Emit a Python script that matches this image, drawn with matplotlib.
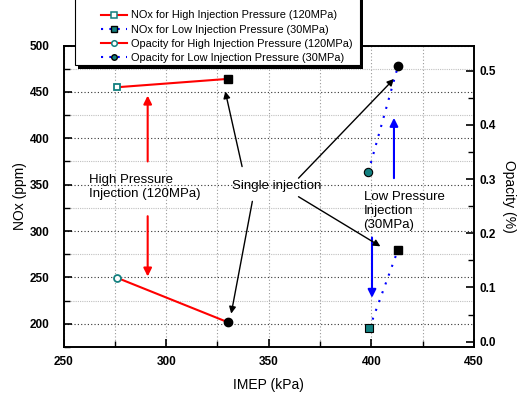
import matplotlib
matplotlib.use("Agg")
import matplotlib.pyplot as plt
from matplotlib.lines import Line2D
from matplotlib.patches import Rectangle
from matplotlib.ticker import MultipleLocator, FormatStrFormatter

plt.rcParams['font.family'] = ['Liberation Sans', 'DejaVu Sans']

# data
imep_high = [276, 330]
nox_high = [455, 464]
opac_high = [0.118, 0.036]

imep_low = [399, 413]
nox_low = [195, 280]
imep_low_op = [398.5, 413]
opac_low = [0.313, 0.509]

teal = '#138080'
W, H = 519, 394

fig = plt.figure(figsize=(5.19, 3.94), dpi=100)
ax = fig.add_axes([0.1224, 0.1193, 0.7909, 0.7652])
ax2 = ax.twinx()

ax.set_xlim(250, 450)
ax.set_ylim(175, 500)
ax2.set_ylim(-0.0098, 0.5465)

# grid
ax.xaxis.set_major_locator(MultipleLocator(50))
ax.xaxis.set_minor_locator(MultipleLocator(25))
ax.yaxis.set_major_locator(MultipleLocator(50))
ax.yaxis.set_minor_locator(MultipleLocator(25))
ax2.yaxis.set_major_locator(MultipleLocator(0.1))
ax2.yaxis.set_minor_locator(MultipleLocator(0.05))
ax.grid(True, which='major', axis='y', color='#333333', ls=(0, (1, 2)), lw=0.8)
ax.grid(True, which='minor', axis='y', color='#c0c0c0', ls=(0, (1, 1)), lw=0.8)
ax.grid(True, which='both', axis='x', color='#999999', ls=(0, (1, 2)), lw=0.8)

# lines
ax.plot(imep_high, nox_high, color='red', lw=1.5, zorder=3)
ax.plot(imep_low, nox_low, color='blue', lw=1.5, ls=(0, (1, 3.5)), zorder=3)
ax2.plot(imep_high, opac_high, color='red', lw=1.5, zorder=3)
ax2.plot(imep_low_op, opac_low, color='blue', lw=1.5, ls=(0, (1, 3.5)), zorder=3)

# markers
ax.plot(imep_high[0], nox_high[0], 's', ms=5, mfc='white', mec=teal, mew=1.3, zorder=4)
ax.plot(imep_high[1], nox_high[1], 's', ms=6, mfc='black', mec='black', zorder=4)
ax.plot(imep_low[0], nox_low[0], 's', ms=6, mfc=teal, mec='black', mew=0.8, zorder=4)
ax.plot(imep_low[1], nox_low[1], 's', ms=6, mfc='black', mec='black', zorder=4)
ax2.plot(imep_high[0], opac_high[0], 'o', ms=5, mfc='white', mec=teal, mew=1.3, zorder=4)
ax2.plot(imep_high[1], opac_high[1], 'o', ms=6, mfc='black', mec='black', zorder=4)
ax2.plot(imep_low_op[0], opac_low[0], 'o', ms=6, mfc=teal, mec='black', mew=0.8, zorder=4)
ax2.plot(imep_low_op[1], opac_low[1], 'o', ms=6, mfc='black', mec='black', zorder=4)

# arrows
def arrow(x0, y0, x1, y1, color, lw=1.0, ms=10):
    ax.annotate('', xy=(x1, y1), xytext=(x0, y0),
                arrowprops=dict(arrowstyle='-|>', color=color, lw=lw,
                                mutation_scale=ms, shrinkA=0, shrinkB=0))

arrow(291, 375, 291, 446, 'red', 1.5, 12)
arrow(291, 316, 291, 251, 'red', 1.5, 12)
arrow(411, 357, 411, 422, 'blue', 1.5, 12)
arrow(400.3, 293, 400.3, 228, 'blue', 1.5, 12)
arrow(337, 369.5, 328.8, 450.5, 'black', 1.0, 10)
arrow(342, 332, 331.7, 211, 'black', 1.0, 10)
arrow(364.5, 357, 411, 464, 'black', 1.0, 10)
arrow(364.5, 337, 404.4, 283.5, 'black', 1.0, 10)

ax.text(262.6, 361, 'High Pressure\nInjection (120MPa)', fontsize=9.5,
        va='top', ha='left', linespacing=1.2)
ax.text(354, 348.5, 'Single injection', fontsize=9.5, va='center', ha='center')
ax.text(396.2, 343, 'Low Pressure\nInjection\n(30MPa)', fontsize=9.5,
        va='top', ha='left', linespacing=1.2)

# ticks
for a in (ax, ax2):
    a.tick_params(which='major', direction='in', length=6, width=1.2)
    a.tick_params(which='minor', direction='in', length=4, width=1.0)
ax.tick_params(axis='x', which='major', labelsize=8.5, pad=6.5)
ax.tick_params(axis='y', which='major', labelsize=8.5, pad=10)
ax2.tick_params(axis='y', which='major', labelsize=8.5, pad=4.3)
for lab in ax.get_xticklabels() + ax.get_yticklabels() + ax2.get_yticklabels():
    lab.set_fontweight('bold')
ax2.yaxis.set_major_formatter(FormatStrFormatter('%.1f'))
for a in (ax, ax2):
    for s in a.spines.values():
        s.set_linewidth(1.2)

ax.set_xlabel('IMEP (kPa)', fontsize=10, labelpad=7)
ax.set_ylabel('NOx (ppm)', fontsize=10, labelpad=2)
ax2.set_ylabel('Opacity (%)', fontsize=10, rotation=270, labelpad=14)

# legend box with Origin-like black shadow
fig.patches.append(Rectangle((78 / W, 1 - 68.5 / H), 285 / W, 0.3,
                             transform=fig.transFigure, facecolor='black',
                             edgecolor='none', zorder=5))
fig.patches.append(Rectangle((75 / W, 1 - 64.5 / H), 285 / W, 0.3,
                             transform=fig.transFigure, facecolor='white',
                             edgecolor='black', lw=0.8, zorder=6))

handles = [
    Line2D([], [], color='red', lw=1.5, marker='s', ms=4, mfc='white', mec=teal, mew=1.1),
    Line2D([], [], color='blue', lw=1.5, ls=(0, (1, 3)), marker='s', ms=4, mfc=teal, mec='black'),
    Line2D([], [], color='red', lw=1.5, marker='o', ms=4, mfc='white', mec=teal, mew=1.1),
    Line2D([], [], color='blue', lw=1.5, ls=(0, (1, 3)), marker='o', ms=4, mfc=teal, mec='black'),
]
labels = ['NOx for High Injection Pressure (120MPa)',
          'NOx for Low Injection Pressure (30MPa)',
          'Opacity for High Injection Pressure (120MPa)',
          'Opacity for Low Injection Pressure (30MPa)']
leg = fig.legend(handles, labels, loc='upper left',
                 bbox_to_anchor=(101 / W, 1 - 10.5 / H),
                 fontsize=7.9, frameon=False,
                 handlelength=2.4, handletextpad=0.3, labelspacing=0.38,
                 borderpad=0, borderaxespad=0)
leg.set_zorder(7)

fig.savefig('out.png', dpi=100)
